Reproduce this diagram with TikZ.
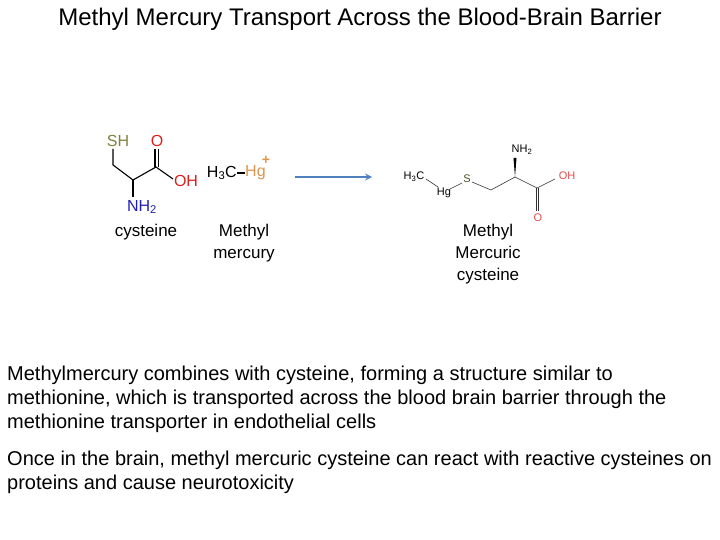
\documentclass[tikz,border=0pt]{standalone}
\usepackage{fontspec}
\setmainfont{Liberation Sans}
\begin{document}
\begin{tikzpicture}[x=1pt,y=-1pt,
 bond/.style={line width=1.1pt},
 lbond/.style={line width=0.6pt,black!80},
 atom/.style={inner sep=0pt,font=\fontsize{16}{16}\selectfont},
 satom/.style={inner sep=0pt,font=\fontsize{11}{11}\selectfont},
 lab/.style={align=center,font=\fontsize{17}{22}\selectfont},
 para/.style={anchor=north west,align=left,inner sep=0pt,font=\fontsize{20}{24}\selectfont}]
\definecolor{sh}{RGB}{128,128,64}\definecolor{ox}{RGB}{220,30,30}
\definecolor{nb}{RGB}{30,30,180}\definecolor{hg}{RGB}{220,150,80}
\definecolor{arr}{RGB}{79,129,189}
\useasboundingbox (0,0) rectangle (720,540);
\node[font=\fontsize{24}{24}\selectfont] (title) at (360,19) {Methyl Mercury Transport Across the Blood-Brain Barrier};
% cysteine
\node[atom,text=sh] (sh) at (118,141) {SH};
\node[atom,text=ox] (o1) at (157,141) {O};
\node[atom,text=ox] (oh1) at (186,181) {OH};
\node[atom,text=nb] (nh1) at (142,207) {NH\textsubscript{2}};
\coordinate (c1) at (113,165); \coordinate (c2) at (133,180); \coordinate (c3) at (156,167);
\draw[bond] (113,149) -- (c1) -- (c2) -- (c3) -- (173,179);
\draw[bond] (c2) -- (133,197);
\draw[bond] (155,167) -- (155,149); \draw[bond] (158.5,167) -- (158.5,149);
% methyl mercury
\node[atom,anchor=east] (h3c) at (237,173) {H\textsubscript{3}C};
\node[atom,text=hg,anchor=west] (hg1) at (245,173) {Hg};
\node[text=hg,inner sep=0pt,font=\bfseries\fontsize{14}{14}\selectfont] (plus) at (266,160) {+};
\draw[bond] (h3c.east) -- (hg1.west);
% arrow
\coordinate (a1) at (295,177); \coordinate (a2) at (372,177);
\draw[arr,line width=2pt,-stealth] (a1) -- (a2);
% methyl mercuric cysteine
\node[satom] (h3c2) at (414,177) {H\textsubscript{3}C};
\node[satom] (hg2) at (444,193) {Hg};
\node[satom,text=sh!60!black] (s2) at (467,179) {S};
\node[satom] (nh2) at (522,150) {NH\textsubscript{2}};
\node[satom,text=ox!80] (o2) at (538,218) {O};
\node[satom,text=ox!80] (oh2) at (567,176) {OH};
\coordinate (ca) at (515,177); \coordinate (cb) at (491,190); \coordinate (cc) at (537,188);
\draw[lbond] (426,179) -- (438,187);
\draw[lbond] (450,189) -- (462,183);
\draw[lbond] (472,182) -- (cb) -- (ca) -- (cc) -- (555,179);
\draw[lbond] (536,188) -- (536,211); \draw[lbond] (538.5,188) -- (538.5,211);
\fill[black] (ca) -- (513.5,158) -- (516.5,158) -- cycle;
% labels
\node[lab] (l1) at (146,232) {cysteine};
\node[lab] (l2) at (244,243) {Methyl\\mercury};
\node[lab] (l3) at (488,254) {Methyl\\Mercuric\\cysteine};
\node[para] (p1) at (7,366) {Methylmercury combines with cysteine, forming a structure similar to\\methionine, which is transported across the blood brain barrier through the\\methionine transporter in endothelial cells};
\node[para] (p2) at (7,451) {Once in the brain, methyl mercuric cysteine can react with reactive cysteines on\\proteins and cause neurotoxicity};
\end{tikzpicture}
\end{document}
